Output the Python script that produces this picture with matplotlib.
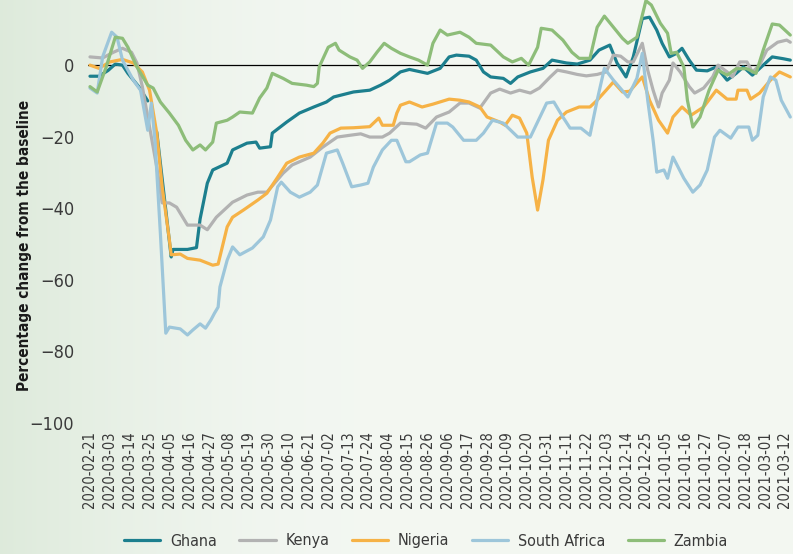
import numpy as np
import matplotlib
matplotlib.use("Agg")
import matplotlib.pyplot as plt
import matplotlib.dates as mdates

plt.rcParams['font.family'] = ['Liberation Sans Narrow', 'DejaVu Sans']
plt.rcParams['font.stretch'] = 'condensed'

# --- datos (dias desde 2020-02-21, % de cambio) ---
inicio = np.datetime64('2020-02-21')

ghana_dias = [0, 5, 10, 14, 18, 21, 27, 32, 34, 37, 45, 46, 54, 59, 61, 65, 68, 76, 79, 87,
              92, 94, 100, 101, 109, 116, 124, 131, 135, 146, 155, 161, 166, 172, 177, 187,
              194, 199, 203, 210, 214, 218, 222, 229, 233, 237, 244, 251, 256, 264, 270, 277,
              282, 288, 292, 297, 301, 306, 310, 314, 317, 321, 325, 328, 332, 336, 342, 347,
              353, 358, 362, 367, 373, 378, 384, 388]
ghana = [-3.1, -3.1, -1.5, 0.3, 0.0, -2.3, -6, -10, np.nan, -18.7, -53.6, -51.5, -51.5, -51,
         -43, -33, -29.3, -27.4, -23.7, -21.8, -21.5, -23.2, -22.8, -19, -15.9, -13.4, -11.7,
         -10.3, -8.9, -7.5, -7, -5.6, -4.2, -1.9, -1.2, -2.3, -0.9, 2.3, 2.8, 2.5, 1.4, -1.9,
         -3.3, -3.7, -5.1, -3.3, -1.9, -0.9, 1.4, 0.6, 0.3, 1.4, 4.2, 5.6, 0.6, -3.3, 2.3, 13,
         13.4, 9.8, 6.1, 2.3, 3.3, 4.7, 1.4, -1.4, -1.6, -0.5, -4.2, -2.3, -0.5, -2.8, 0, 2.3,
         1.8, 1.4]

kenya_dias = [0, 7, 13, 18, 23, 26, 29, 33, 37, 40, 44, 48, 54, 61, 65, 70, 79, 87, 93, 98,
              107, 112, 122, 129, 137, 144, 150, 155, 162, 166, 172, 181, 186, 192, 199, 205,
              210, 216, 222, 227, 233, 238, 244, 249, 255, 259, 264, 270, 275, 281, 286, 290,
              294, 298, 301, 306, 309, 312, 315, 317, 321, 323, 327, 332, 335, 340, 345, 348,
              353, 356, 360, 364, 367, 371, 375, 381, 386, 388]
kenya = [2.3, 2.0, 3.6, 4.7, 3.6, 0.6, -6, -17.3, -28.5, -38.5, -38.5, -39.7, -44.7, -44.7,
         -46, -42.5, -38.3, -36.3, -35.5, -35.5, -30.2, -27.9, -25.7, -22.9, -20.1, -19.6,
         -19.2, -20.1, -20.1, -19, -16.2, -16.5, -17.6, -14.5, -13.1, -10.6, -10.6, -12, -7.8,
         -6.7, -7.8, -7, -7.8, -6.4, -3.3, -1.4, -1.9, -2.6, -3, -2.6, -1.9, 2.8, 2.5, 0.9,
         0.9, 6.1, -1.4, -7, -11.7, -7.8, -4.2, 0.6, -1.9, -6, -7.8, -6.4, -3.3, 0, -1.9,
         -3.3, 0.9, 0.9, -1.9, 0, 4.2, 6.4, 7, 6.4]

nigeria_dias = [0, 5, 11, 18, 24, 29, 33, 37, 40, 44, 45, 50, 54, 61, 68, 71, 76, 79, 85, 93,
                98, 104, 109, 116, 124, 129, 133, 139, 146, 155, 160, 162, 168, 170, 172, 177,
                184, 190, 199, 205, 210, 216, 220, 227, 230, 234, 238, 242, 245, 248, 251, 254,
                259, 264, 271, 277, 281, 286, 290, 295, 299, 306, 310, 315, 320, 323, 328, 333,
                340, 347, 353, 358, 359, 364, 366, 371, 377, 382, 388]
nigeria = [0, -0.9, 0.9, 1.6, 0.6, -1.9, -7, -19, -34, -48.9, -53, -52.8, -54, -54.5, -55.9,
           -55.6, -45.2, -42.5, -40.5, -37.7, -35.8, -31.3, -27.4, -25.7, -24.6, -21.8, -19,
           -17.6, -17.5, -17.2, -14.8, -16.8, -16.8, -13.4, -11.2, -10.3, -11.7, -10.9, -9.5,
           -9.8, -10.3, -11.7, -14.5, -15.9, -16.8, -14, -14.8, -19, -31.3, -40.5, -32, -21,
           -15.4, -13.1, -11.7, -11.7, -9.8, -7, -4.7, -7.5, -7.3, -3.3, -9.8, -15.4, -19,
           -14.5, -11.7, -14, -11.7, -7, -9.5, -9.5, -7, -7, -9.5, -7.8, -4.2, -1.9, -3.3]

sudafrica_dias = [0, 4, 7, 12, 15, 18, 24, 28, 32, 34, 36, 39, 42, 44, 50, 54, 57, 61, 64, 67,
                  69, 71, 72, 76, 79, 83, 90, 96, 100, 104, 106, 111, 116, 122, 126, 131, 137,
                  140, 145, 150, 154, 157, 162, 167, 170, 175, 177, 183, 187, 192, 198, 201,
                  207, 214, 218, 223, 229, 237, 244, 253, 257, 262, 266, 272, 277, 281, 285,
                  290, 298, 303, 306, 309, 312, 314, 318, 320, 323, 329, 334, 338, 342, 346,
                  349, 355, 359, 365, 367, 370, 373, 377, 380, 383, 388]
sudafrica = [-6.4, -7.8, 2.3, 9.2, 7.8, 1.4, -4.2, -7, -18.2, -10.6, -21, -47, -74.9, -73.2,
             -73.7, -75.4, -74, -72.3, -73.5, -71.2, -69.3, -67.6, -62, -54.5, -50.8, -53,
             -51.1, -48, -43.3, -34, -32.7, -35.5, -36.9, -35.5, -33.5, -24.6, -23.7, -27.4,
             -34, -33.5, -33, -28.5, -23.7, -21, -21, -27, -27, -25.1, -24.6, -16.2, -16.2,
             -17.3, -21, -21, -19, -15.4, -16.2, -20.1, -20.1, -10.6, -10.3, -14.5, -17.6,
             -17.6, -19.6, -9.8, -0.9, -4.2, -8.9, -3.7, 3.3, -9.8, -21, -29.9, -29.3, -31.6,
             -25.7, -31.6, -35.5, -33.5, -29.3, -20.1, -18.2, -20.4, -17.3, -17.3, -21, -19.6,
             -8.9, -3.3, -4.2, -9.8, -14.5]

zambia_dias = [0, 4, 9, 14, 18, 21, 26, 32, 35, 39, 44, 49, 53, 57, 61, 64, 68, 70, 76, 79,
               83, 90, 94, 98, 101, 107, 112, 120, 124, 126, 127, 132, 136, 138, 144, 148, 151,
               155, 159, 163, 167, 172, 177, 182, 187, 190, 194, 198, 205, 210, 214, 222, 225,
               229, 234, 239, 243, 248, 250, 256, 262, 267, 271, 277, 281, 285, 290, 295, 298,
               303, 308, 311, 316, 320, 322, 325, 329, 331, 334, 338, 343, 348, 353, 358, 364,
               369, 373, 378, 382, 385, 388]
zambia = [-6, -7.5, -0.5, 7.8, 7.5, 5, -0.5, -5.6, -6.4, -10.3, -13.4, -16.8, -21, -23.7,
          -22.3, -23.7, -21.5, -16.2, -15.4, -14.5, -13.1, -13.4, -9.2, -6.4, -2.3, -3.7, -5.1,
          -5.6, -6, -5.1, -0.5, 5, 6.1, 4.2, 2.3, 1.4, -0.9, 0.9, 3.6, 6.1, 4.7, 3.3, 2.3, 1.4,
          0, 6.1, 9.8, 8.4, 9.2, 7.8, 6.1, 5.6, 4.2, 2.3, 0.9, 1.9, 0, 5, 10.3, 9.8, 7, 3.6,
          1.9, 1.9, 10.6, 13.7, 10.6, 7.5, 6.1, 7.8, 18, 16.8, 11.7, 8.9, 3.3, 3.6, -0.5, -9.8,
          -17.3, -14.5, -7, -1.4, -2.8, -1, -1, -2.3, 4.2, 11.5, 11.2, 9.8, 8.4]

paises = ["Ghana", "Kenya", "Nigeria", "South Africa", "Zambia"]
series = [(ghana_dias, ghana), (kenya_dias, kenya), (nigeria_dias, nigeria),
          (sudafrica_dias, sudafrica), (zambia_dias, zambia)]
colores = ["#1c7f8e", "#b2b2b2", "#f6b246", "#9dc6da", "#8dbd79"]

# --- figura ---
fig = plt.figure(figsize=(7.93, 5.54), dpi=100)

# fondo degradado verde claro
fondo = fig.add_axes([0, 0, 1, 1], zorder=-10)
xx, yy = np.meshgrid(np.linspace(0, 1, 300), np.linspace(0, 1, 200))
t = np.clip(1 - xx / 0.45, 0, 1) ** 1.6 * 0.85
claro = np.array([0.953, 0.969, 0.949])
verde = np.array([0.855, 0.910, 0.845])
img = claro[None, None, :] * (1 - t[..., None]) + verde[None, None, :] * t[..., None]
fondo.imshow(img, aspect='auto', extent=[0, 1, 0, 1], origin='upper')
fondo.axis('off')

ax = fig.add_axes([88 / 793, 1 - 423 / 554, 705 / 793, 423 / 554])
ax.set_facecolor('none')

for nombre, (dias, vals), color in zip(paises, series, colores):
    fechas = inicio + np.array(dias).astype('timedelta64[D]')
    ax.plot(fechas, vals, color=color, lw=2.3, label=nombre, solid_capstyle='round')

ax.axhline(0, color='black', lw=0.9, zorder=0.5)

x0 = mdates.date2num(inicio)
ax.set_xlim(x0 - 1.1, x0 + 389.5)
ax.set_ylim(-100, 18.2)

marcas = inicio + (np.arange(36) * 11).astype('timedelta64[D]')
ax.set_xticks(marcas)
ax.set_xticklabels([str(m) for m in marcas], rotation=90, fontsize=10.5, color='#3a3a3a')
ax.set_yticks([-100, -80, -60, -40, -20, 0])
ax.tick_params(axis='y', labelsize=13, colors='#3a3a3a', length=0, pad=10)
ax.tick_params(axis='x', length=0, pad=6)
for s in ax.spines.values():
    s.set_visible(False)

fig.text(25 / 793, 1 - 245 / 554, "Percentage change from the baseline", rotation=90,
         ha='center', va='center', fontsize=11, fontweight='bold', color='#1a1a1a')

fig.legend(loc='center', bbox_to_anchor=(0.537, 1 - 541 / 554), ncol=5, frameon=False,
           fontsize=11.5, handlelength=2.3, handletextpad=0.6, columnspacing=1.4,
           labelcolor='#3a3a3a')

fig.savefig("out.png", dpi=100)
